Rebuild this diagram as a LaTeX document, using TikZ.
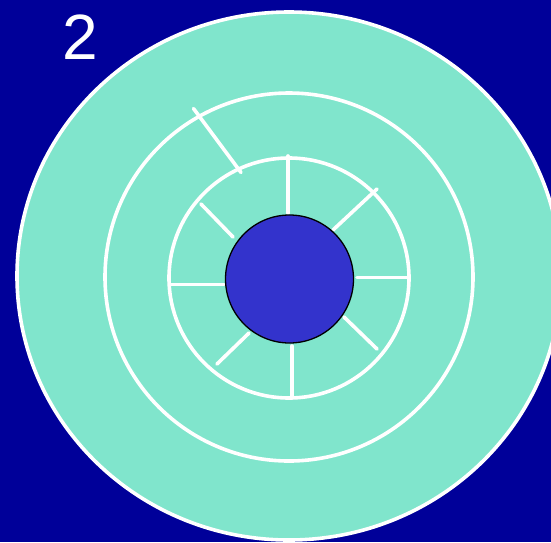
\documentclass[tikz,border=0pt]{standalone}
\usepackage{fontspec}
\setmainfont{Liberation Sans}
\definecolor{bgblue}{HTML}{000099}
\definecolor{ringgreen}{HTML}{80E5CC}
\definecolor{discblue}{HTML}{3333CC}
\begin{document}
\begin{tikzpicture}[x=1pt,y=-1pt,
  wline/.style={draw=white,line width=3.6pt},
  spoke/.style={draw=white,line width=3.6pt,line cap=round}]
\useasboundingbox (0,0) rectangle (551,542);
\fill[bgblue] (0,0) rectangle (551,542);
% outer disc
\begin{scope}
\clip (0,0) rectangle (551,542);
\draw[wline,fill=ringgreen] (289,276) ellipse [x radius=272, y radius=264];
\end{scope}
% middle ring
\draw[wline] (289,277) circle [radius=184];
% inner ring
\draw[wline] (289,278) circle [radius=120];
% spokes
\draw[spoke] (288,156) -- (288,213);
\draw[spoke] (333,230) -- (377,189);
\draw[spoke] (357,277.5) -- (407,277.5);
\draw[spoke] (344,317) -- (377,349);
\draw[spoke] (292,346) -- (292,397);
\draw[spoke] (249,333) -- (217,364);
\draw[spoke] (171,284.5) -- (224,284.5);
\draw[spoke] (201,204) -- (233,237);
\draw[spoke] (193.5,108.5) -- (241,172.5);
% centre disc
\draw[black,line width=1.3pt,fill=discblue] (289.5,279) circle [radius=64];
% label
\node[text=white,font=\fontsize{64}{64}\selectfont,anchor=center] (lbl) at (80,37) {2};
\end{tikzpicture}
\end{document}
